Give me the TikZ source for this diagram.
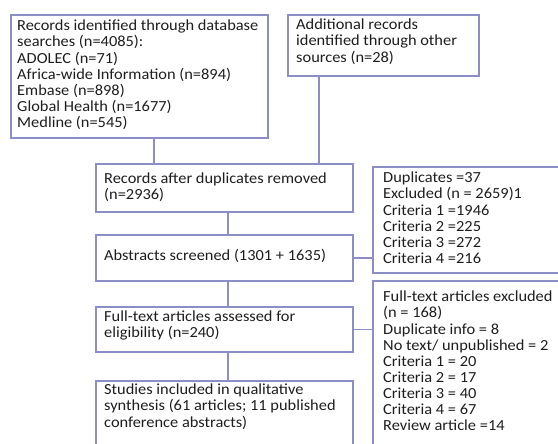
\documentclass[tikz,border=0pt]{standalone}
\usepackage{fontspec}
\setmainfont{Carlito}[FakeStretch=1.065]
\usetikzlibrary{calc}
\definecolor{boxblue}{RGB}{140,143,198}
\definecolor{txt}{RGB}{30,30,30}
\begin{document}
\begin{tikzpicture}[x=1pt,y=-1pt,
  box/.style={draw=boxblue,line width=1.6pt,fill=none,rectangle,anchor=north west,inner sep=0pt},
  txtnode/.style={anchor=north west,inner sep=0pt,align=left,text=txt,font=\fontsize{15.4}{16.1}\selectfont},
  link/.style={draw=boxblue,line width=1.6pt}]
\useasboundingbox (0,0) rectangle (558,444);
\clip (0,0) rectangle (558,444);
% boxes
\node[box,minimum width=257,minimum height=123] (b1) at (10,14) {};
\node[box,minimum width=191,minimum height=61] (b2) at (287,14) {};
\node[box,minimum width=257,minimum height=48] (b3) at (95,163) {};
\node[box,minimum width=257,minimum height=46] (b4) at (95,234) {};
\node[box,minimum width=257,minimum height=45] (b5) at (95,306) {};
\node[box,minimum width=257,minimum height=100] (b6) at (95,380) {};
\node[box,minimum width=240,minimum height=106] (r1) at (372,166) {};
\node[box,minimum width=240,minimum height=200] (r2) at (372,280) {};
% texts
\node[txtnode] (t1) at (17,20) {Records identified through database\\searches (n=4085):\\ADOLEC (n=71)\\Africa-wide Information (n=894)\\Embase (n=898)\\Global Health (n=1677)\\Medline (n=545)};
\node[txtnode] (t2) at (296,19) {Additional records\\identified through other\\sources (n=28)};
\node[txtnode] (t3) at (104,173) {Records after duplicates removed\\(n=2936)};
\node[txtnode] (t4) at (104,249) {Abstracts screened (1301 + 1635)};
\node[txtnode] (t5) at (104,311) {Full-text articles assessed for\\eligibility (n=240)};
\node[txtnode] (t6) at (104,384) {Studies included in qualitative\\synthesis (61 articles; 11 published\\conference abstracts)};
\node[txtnode] (t7) at (383,172) {Duplicates =37\\Excluded (n = 2659)1\\Criteria 1 =1946\\Criteria 2 =225\\Criteria 3 =272\\Criteria 4 =216};
\node[txtnode] (t8) at (383,291) {Full-text articles excluded\\(n = 168)\\Duplicate info = 8\\No text/ unpublished = 2\\Criteria 1 = 20\\Criteria 2 = 17\\Criteria 3 = 40\\Criteria 4 = 67\\Review article =14};
% connectors
\coordinate (c1) at ($(b1.south west)+(144,0)$);
\coordinate (c2) at ($(b2.south west)+(32,0)$);
\coordinate (c3) at ($(b3.south west)+(133,0)$);
\coordinate (c4) at ($(b4.south west)+(133,0)$);
\coordinate (c5) at ($(b5.south west)+(133,0)$);
\draw[link] (c1) -- (c1 |- b3.north);
\draw[link] (c2) -- (c2 |- b3.north);
\draw[link] (c3) -- (c3 |- b4.north);
\draw[link] (c4) -- (c4 |- b5.north);
\draw[link] (c5) -- (c5 |- b6.north);
\draw[link] (b4.east) -- (b4.east -| r1.west);
\draw[link] (b5.east) -- (b5.east -| r2.west);
\end{tikzpicture}
\end{document}
